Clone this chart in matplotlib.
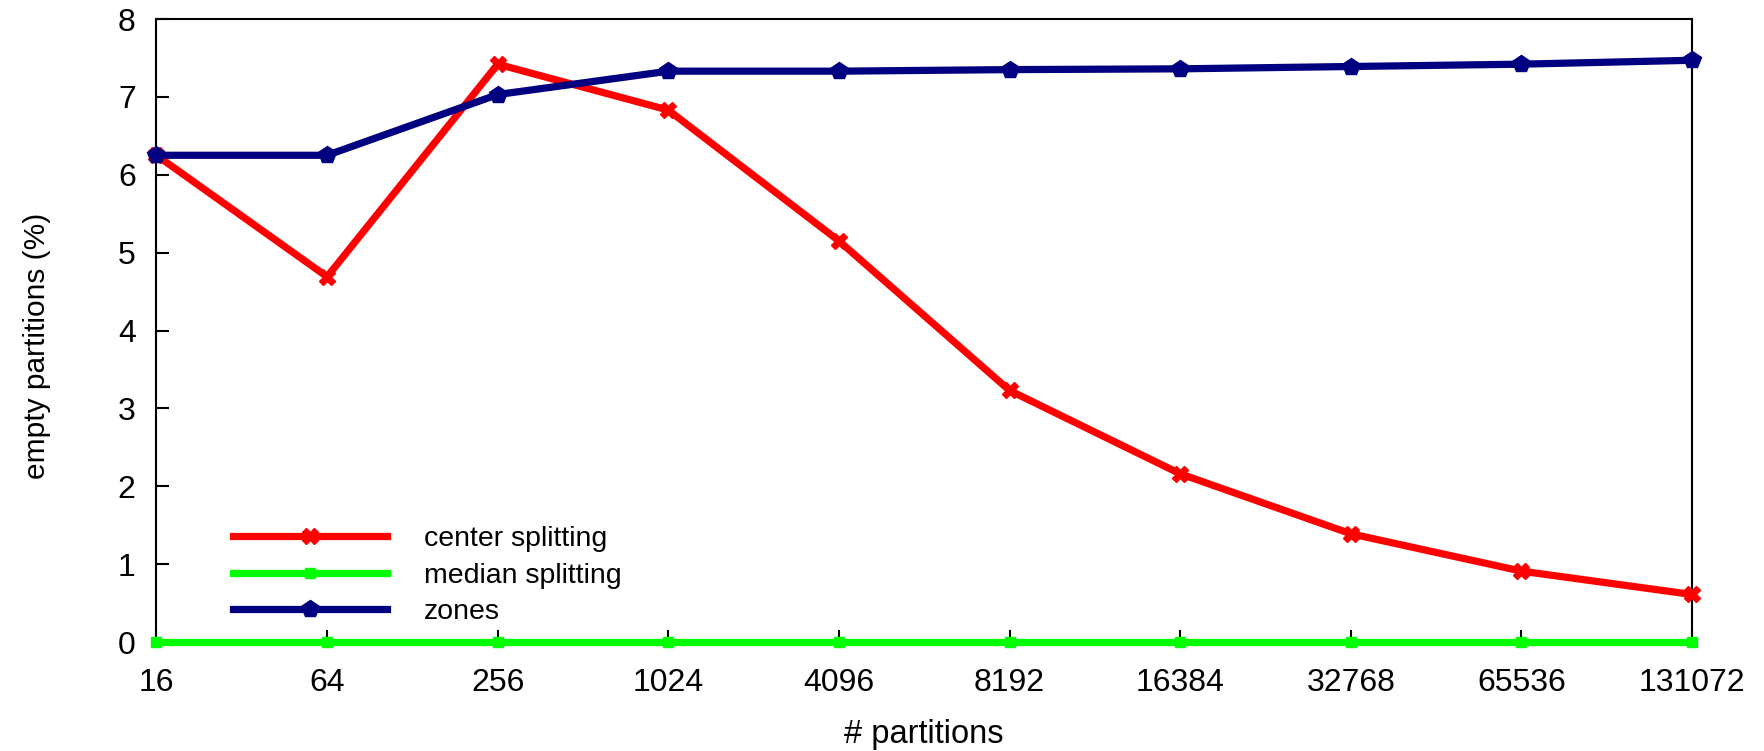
import matplotlib
matplotlib.use("Agg")
import matplotlib.pyplot as plt

plt.rcParams['font.family'] = ['Liberation Sans', 'DejaVu Sans']

partitions = ["16", "64", "256", "1024", "4096", "8192", "16384", "32768", "65536", "131072"]
center_splitting = [6.25, 4.69, 7.42, 6.83, 5.15, 3.23, 2.16, 1.39, 0.91, 0.61]
median_splitting = [0, 0, 0, 0, 0, 0, 0, 0, 0, 0]
zones = [6.25, 6.25, 7.03, 7.33, 7.33, 7.35, 7.36, 7.39, 7.42, 7.47]

fig = plt.figure(figsize=(17.65, 7.51), dpi=100)
ax = fig.add_axes([156.5 / 1765, 1 - 642 / 751, (1692 - 156.5) / 1765, (642 - 19) / 751])

x = list(range(len(partitions)))
ax.plot(x, center_splitting, color="#ff0000", lw=5.2, marker="X", ms=12, label="center splitting", clip_on=False, zorder=3)
ax.plot(x, median_splitting, color="#00ff00", lw=5.2, marker="s", ms=7, label="median splitting", clip_on=False, zorder=4)
ax.plot(x, zones, color="#000080", lw=5.2, marker="p", ms=13, label="zones", clip_on=False, zorder=3)

ax.set_xlim(0, len(partitions) - 1)
ax.set_ylim(0, 8)
ax.set_xticks(x)
ax.set_xticklabels(partitions)
ax.set_yticks(range(0, 9))
ax.tick_params(direction="in", length=9, width=1.5, labelsize=23, pad=19)
ax.tick_params(axis="y", pad=15)
for s in ax.spines.values():
    s.set_linewidth(1.5)

ax.set_xlabel("# partitions", fontsize=23.5, labelpad=15)
ax.set_ylabel("empty partitions (%)", fontsize=21.5)
ax.yaxis.set_label_coords(-0.069, 0.475)

ax.legend(loc="upper left", bbox_to_anchor=(222 / 1765, 1 - 515 / 751), bbox_transform=fig.transFigure,
          frameon=False, fontsize=20.5, handlelength=5.4, handletextpad=1.3, labelspacing=0.36,
          borderaxespad=0)

fig.savefig("out.png", dpi=100)
